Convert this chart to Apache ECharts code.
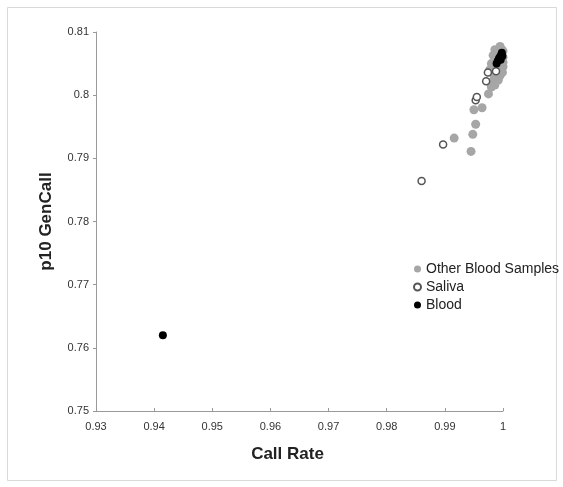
<!DOCTYPE html>
<html>
<head>
<meta charset="utf-8">
<script src="https://cdn.jsdelivr.net/npm/echarts@6/dist/echarts.min.js"></script>
<style>
    html, body { margin: 0; padding: 0; background: #fff; }
    #chart { width: 563px; height: 487px; }
</style>
</head>
<body>
<div id="chart"></div>
<script>
    // [call rate, p10 GenCall]
    var otherBlood = [
        [0.9916, 0.7932], [0.9945, 0.7911], [0.9948, 0.7938], [0.9953, 0.7954],
        [0.9950, 0.7977], [0.9964, 0.7980], [0.9975, 0.8002], [0.9980, 0.8013],
        [0.9986, 0.8016], [0.9992, 0.8024], [0.9977, 0.8040], [0.9995, 0.8031],
        [0.9980, 0.8050], [0.9990, 0.8055], [0.9983, 0.8063], [0.9998, 0.8072],
        [1.0000, 0.8045], [0.9988, 0.8045], [0.9993, 0.8065], [0.9985, 0.8030],
        [0.9997, 0.8040], [0.9978, 0.8020], [0.9990, 0.8068], [1.0000, 0.8060],
        [0.9995, 0.8077], [1.0000, 0.8070], [1.0000, 0.8052], [0.9999, 0.8036],
        [0.9986, 0.8072]
    ];
    var saliva = [
        [0.9860, 0.7864], [0.9897, 0.7922], [0.9953, 0.7992], [0.9955, 0.7997],
        [0.9971, 0.8022], [0.9974, 0.8036], [0.9988, 0.8038]
    ];
    var blood = [
        [0.9415, 0.7620], [0.9989, 0.8050], [0.9991, 0.8054], [0.9993, 0.8058],
        [0.9995, 0.8061], [0.9997, 0.8064], [0.9998, 0.8067], [0.9996, 0.8056],
        [0.9999, 0.8062]
    ];
    var seriesNames = ['Other Blood Samples', 'Saliva', 'Blood'];

    var myChart = echarts.init(document.getElementById('chart'));
    var font = 'Liberation Sans, Arial, sans-serif';
    var fmt = function (v) { return String(+v.toFixed(2)); };

    var option = {
        animation: false,
        textStyle: { fontFamily: font },
        graphic: [{
            type: 'rect',
            shape: { x: 7.5, y: 7.5, width: 549, height: 473 },
            style: { fill: 'none', stroke: '#d9d9d9', lineWidth: 1 },
            silent: true
        }],
        grid: { left: 96, right: 60, top: 32, bottom: 76 },
        legend: {
            orient: 'vertical',
            left: 408,
            top: 257,
            itemWidth: 7,
            itemHeight: 7,
            itemGap: 4,
            icon: 'circle',
            textStyle: { fontFamily: font, fontSize: 14, color: '#222' },
            data: seriesNames
        },
        xAxis: {
            type: 'value',
            min: 0.93,
            max: 1,
            interval: 0.01,
            name: 'Call Rate',
            nameLocation: 'middle',
            nameGap: 35,
            nameTextStyle: {
                fontFamily: font, fontSize: 17, fontWeight: 'bold', color: '#222',
                padding: [0, 24, 0, 0]
            },
            splitLine: { show: false },
            axisLine: { lineStyle: { color: '#999', width: 1 } },
            axisTick: { show: true, inside: true, length: 3, lineStyle: { color: '#999' } },
            axisLabel: { fontSize: 11, color: '#333', margin: 10, formatter: fmt }
        },
        yAxis: {
            type: 'value',
            min: 0.75,
            max: 0.81,
            interval: 0.01,
            name: 'p10 GenCall',
            nameLocation: 'middle',
            nameGap: 41,
            nameTextStyle: { fontFamily: font, fontSize: 17, fontWeight: 'bold', color: '#222' },
            splitLine: { show: false },
            axisLine: { show: true, lineStyle: { color: '#999', width: 1 } },
            axisTick: { show: true, length: 3, lineStyle: { color: '#999' } },
            axisLabel: { fontSize: 11, color: '#333', margin: 7, formatter: fmt }
        },
        series: [
            {
                name: seriesNames[0],
                type: 'scatter',
                symbol: 'circle',
                symbolSize: 9,
                itemStyle: { color: '#a6a6a6', opacity: 1 },
                data: otherBlood
            },
            {
                name: seriesNames[1],
                type: 'scatter',
                symbol: 'circle',
                symbolSize: 7,
                itemStyle: { color: '#fff', borderColor: '#555', borderWidth: 1.5, opacity: 1 },
                data: saliva
            },
            {
                name: seriesNames[2],
                type: 'scatter',
                symbol: 'circle',
                symbolSize: 8,
                itemStyle: { color: '#000', opacity: 1 },
                data: blood
            }
        ]
    };
    if (option && typeof option === 'object') {
        myChart.setOption(option, true);
    }
</script>
</body>
</html>
